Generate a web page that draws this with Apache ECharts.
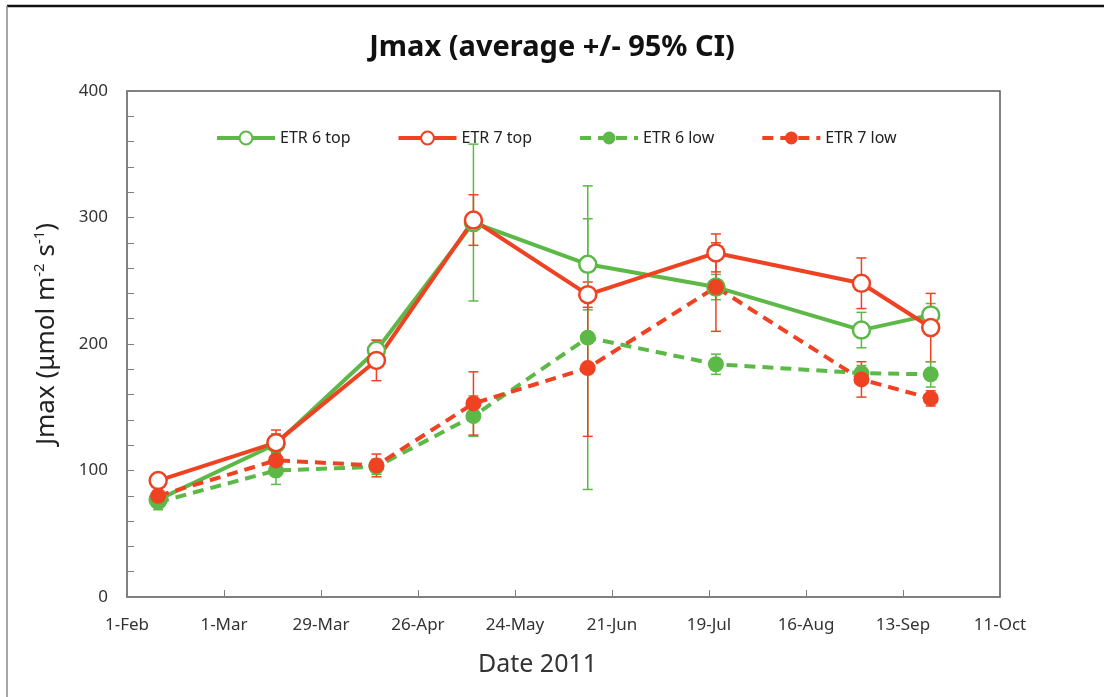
<!DOCTYPE html>
<html>
<head>
<meta charset="utf-8">
<script src="https://cdn.jsdelivr.net/npm/echarts@6/dist/echarts.min.js"></script>
<style>
  html, body { margin: 0; padding: 0; background: #fff; }
  #chart { width: 1104px; height: 697px; }
</style>
</head>
<body>
<div id="chart"></div>
<script>
// sampling dates (2011)
var dates = ['2011-02-10', '2011-03-16', '2011-04-14', '2011-05-12', '2011-06-14', '2011-07-21', '2011-09-01', '2011-09-21']
// x tick labels, every 28 days from 1-Feb
var tickLabels = ['1-Feb', '1-Mar', '29-Mar', '26-Apr', '24-May', '21-Jun', '19-Jul', '16-Aug', '13-Sep', '11-Oct']

// Jmax averages and 95% CI half widths
var etr6Top = [77, 121, 195, 296, 263, 245, 211, 223]
var etr6TopCI = [6, 8, 8, 62, 36, 10, 14, 9]
var etr7Top = [92, 122, 187, 298, 239, 272, 248, 213]
var etr7TopCI = [5, 10, 16, 20, 10, 15, 20, 27]
var etr6Low = [75, 100, 103, 143, 205, 184, 177, 176]
var etr6LowCI = [6, 11, 6, 16, 120, 8, 6, 10]
var etr7Low = [80, 108, 104, 153, 181, 245, 172, 157]
var etr7LowCI = [8, 6, 9, 25, 54, 35, 14, 6]

var green = '#5cb947'
var red = '#ee4223'
var font = 'Noto Sans'

var start = Date.UTC(2011, 1, 1)
function dayOf(s) {
    let p = s.split('-')
    return Math.round((Date.UTC(+p[0], +p[1] - 1, +p[2]) - start) / 86400000)
}
var days = dates.map(dayOf)

function points(vals) {
    return vals.map((v, i) => [days[i], v])
}
function bars(vals, ci) {
    return vals.map((v, i) => [days[i], v - ci[i], v + ci[i]])
}

function lineSeries(name, vals, color, open, dashed) {
    return {
        name: name,
        type: 'line',
        data: points(vals),
        z: 3,
        symbol: 'circle',
        symbolSize: open ? 17 : 16,
        color: color,
        lineStyle: { color: color, width: 4, type: dashed ? [11, 7] : 'solid' },
        itemStyle: open ? { color: '#fff', borderColor: color, borderWidth: 2.5 } : { color: color, borderWidth: 0 },
        emphasis: { disabled: true }
    }
}

function errorSeries(vals, ci, color) {
    return {
        type: 'custom',
        z: 2,
        silent: true,
        encode: { x: 0, y: [1, 2] },
        data: bars(vals, ci),
        renderItem: function (params, api) {
            let x = api.value(0)
            let top = api.coord([x, api.value(2)])
            let bot = api.coord([x, api.value(1)])
            let w = 5
            let st = { stroke: color, lineWidth: 1.5 }
            return {
                type: 'group',
                children: [
                    { type: 'line', shape: { x1: top[0], y1: top[1], x2: bot[0], y2: bot[1] }, style: st },
                    { type: 'line', shape: { x1: top[0] - w, y1: top[1], x2: top[0] + w, y2: top[1] }, style: st },
                    { type: 'line', shape: { x1: bot[0] - w, y1: bot[1], x2: bot[0] + w, y2: bot[1] }, style: st }
                ]
            }
        }
    }
}

var chart = echarts.init(document.getElementById('chart'))
chart.setOption({
    animation: false,
    backgroundColor: '#fff',
    title: {
        text: 'Jmax (average +/- 95% CI)',
        left: 'center',
        top: 28,
        textStyle: { fontFamily: font, fontSize: 29, fontWeight: 'bold', color: '#111' }
    },
    legend: {
        data: ['ETR 6 top', 'ETR 7 top', 'ETR 6 low', 'ETR 7 low'],
        left: 210,
        top: 125,
        itemWidth: 58,
        itemHeight: 16,
        itemGap: 46,
        lineStyle: { width: 4 },
        textStyle: { fontFamily: font, fontSize: 16, color: '#222' }
    },
    grid: { left: 127, right: 104, top: 91, bottom: 100, show: true, borderColor: '#595959', borderWidth: 1.5 },
    xAxis: {
        type: 'value',
        min: 0,
        max: 252,
        interval: 28,
        name: 'Date 2011',
        nameLocation: 'middle',
        nameGap: 55,
        nameTextStyle: { fontFamily: font, fontSize: 25, color: '#333', padding: [0, 52, 0, 0] },
        axisLine: { lineStyle: { color: '#7f7f7f', width: 1.5 } },
        axisTick: { inside: true, length: 7, lineStyle: { color: '#7f7f7f' } },
        splitLine: { show: false },
        axisLabel: {
            fontFamily: font, fontSize: 17, color: '#333', margin: 20,
            formatter: v => tickLabels[Math.round(v / 28)]
        }
    },
    yAxis: {
        type: 'value',
        min: 0,
        max: 400,
        interval: 100,
        name: 'Jmax (μmol m{sup|-2} s{sup|-1})',
        nameLocation: 'middle',
        nameGap: 66,
        nameTextStyle: {
            fontFamily: font, fontSize: 26, color: '#222', padding: [0, 0, 0, 20],
            rich: {
                sup: { fontFamily: font, fontSize: 15, color: '#222', verticalAlign: 'top', padding: [0, 0, 14, 0] }
            }
        },
        axisLine: { show: true, lineStyle: { color: '#7f7f7f', width: 1.5 } },
        axisTick: { show: true, inside: true, length: 7, lineStyle: { color: '#7f7f7f' } },
        minorTick: { show: true, splitNumber: 5, length: 7, lineStyle: { color: '#7f7f7f' } },
        splitLine: { show: false },
        axisLabel: { fontFamily: font, fontSize: 17, color: '#333', margin: 19 }
    },
    graphic: [
        { type: 'line', shape: { x1: 7, y1: 6, x2: 1104, y2: 6 }, style: { stroke: '#111', lineWidth: 2.5 } },
        { type: 'line', shape: { x1: 7, y1: 6, x2: 7, y2: 697 }, style: { stroke: '#888', lineWidth: 1.5 } }
    ],
    series: [
        errorSeries(etr6Top, etr6TopCI, green),
        errorSeries(etr7Top, etr7TopCI, red),
        errorSeries(etr6Low, etr6LowCI, green),
        errorSeries(etr7Low, etr7LowCI, red),
        lineSeries('ETR 6 top', etr6Top, green, true, false),
        lineSeries('ETR 7 top', etr7Top, red, true, false),
        lineSeries('ETR 6 low', etr6Low, green, false, true),
        lineSeries('ETR 7 low', etr7Low, red, false, true)
    ]
})
</script>
</body>
</html>
